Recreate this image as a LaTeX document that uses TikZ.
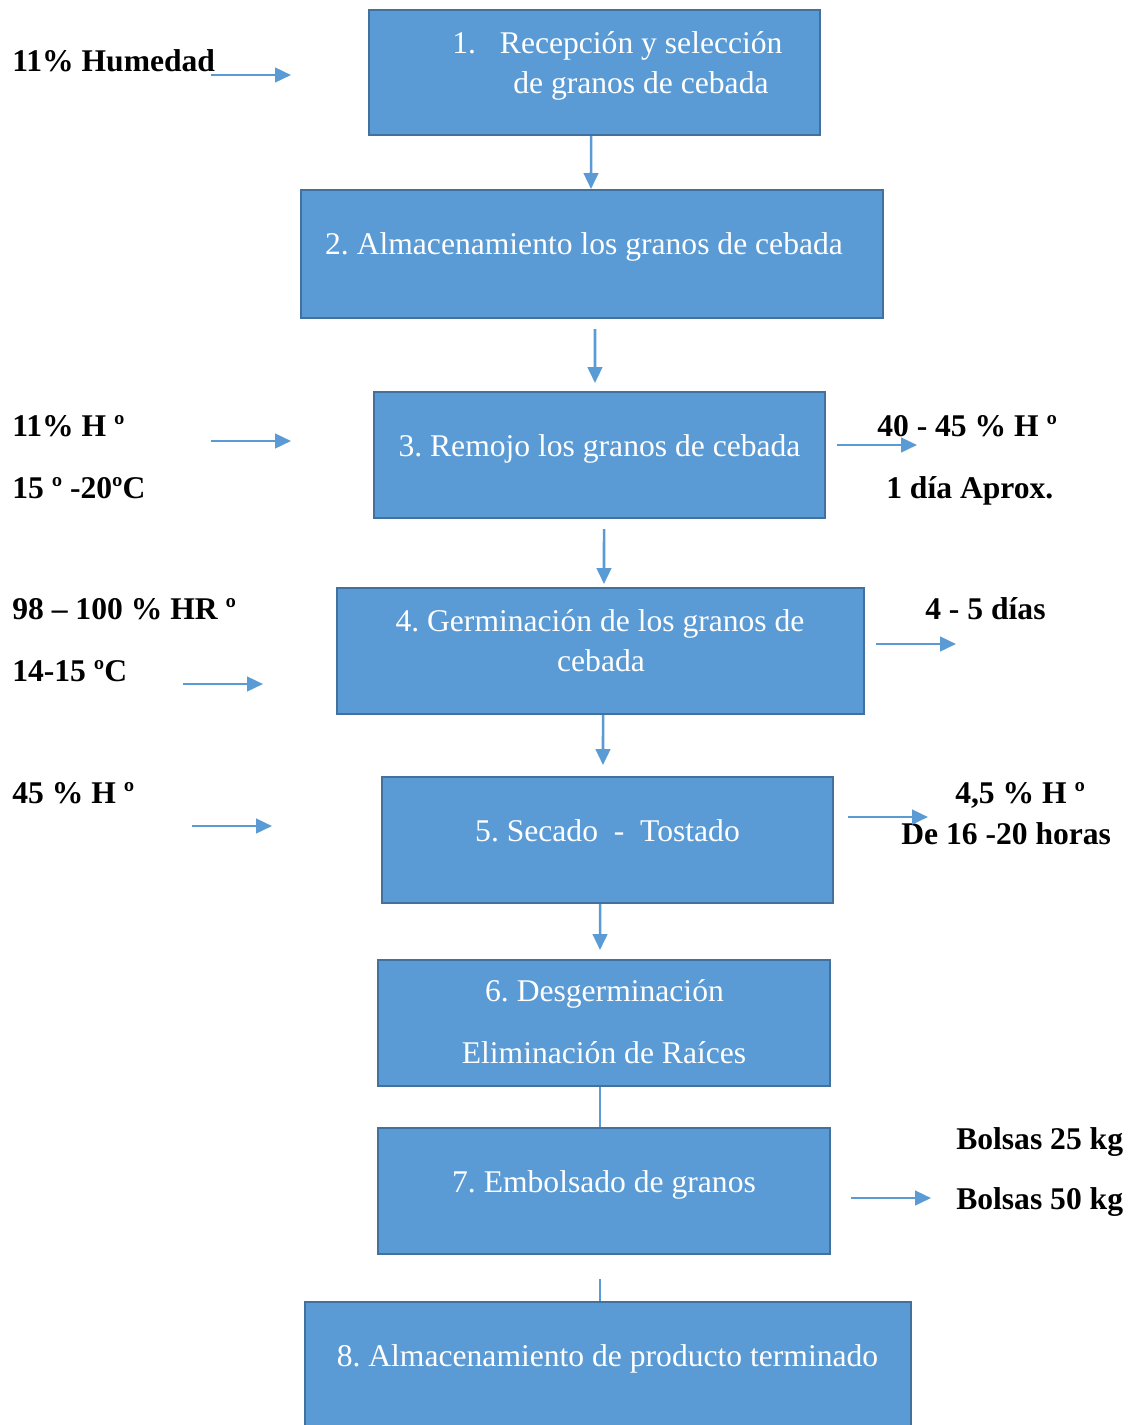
\documentclass[tikz,border=0pt]{standalone}
\usepackage{fontspec}
\setmainfont{Liberation Serif}
\usetikzlibrary{arrows.meta}
\definecolor{boxfill}{HTML}{5B9BD5}
\definecolor{boxline}{HTML}{41719C}
\tikzset{
  procbox/.style={draw=boxline, fill=boxfill, line width=1.5pt, inner sep=0pt},
  intext/.style={text=white, font=\fontsize{23.7}{28}\selectfont, inner sep=0pt, anchor=base},
  sidelabel/.style={text=black, font=\bfseries\fontsize{23.7}{28}\selectfont, inner sep=0pt, anchor=base west},
  flow/.style={draw=boxfill, line width=1.9pt, -{Triangle[length=12pt,width=11pt]}},
  plainflow/.style={draw=boxfill, line width=1.9pt},
}
\frenchspacing
\begin{document}
\frenchspacing
\begin{tikzpicture}[x=0.75pt,y=-0.75pt]
\useasboundingbox (0,0) rectangle (1133,1425);
\clip (0,0) rectangle (1133,1425);

% boxes
\node[procbox, minimum width=451*0.75pt, minimum height=125*0.75pt] (b1) at (594.5,72.5) {};
\node[procbox, minimum width=582*0.75pt, minimum height=128*0.75pt] (b2) at (592,254) {};
\node[procbox, minimum width=451*0.75pt, minimum height=126*0.75pt] (b3) at (599.5,455) {};
\node[procbox, minimum width=527*0.75pt, minimum height=126*0.75pt] (b4) at (600.5,651) {};
\node[procbox, minimum width=451*0.75pt, minimum height=126*0.75pt] (b5) at (607.5,840) {};
\node[procbox, minimum width=452*0.75pt, minimum height=126*0.75pt] (b6) at (604,1023) {};
\node[procbox, minimum width=452*0.75pt, minimum height=126*0.75pt] (b7) at (604,1191) {};
\node[procbox, minimum width=606*0.75pt, minimum height=140*0.75pt] (b8) at (608,1372) {};

% box texts
\node[intext, anchor=base west] (t1a) at (452,53) {1.\hspace{18pt}Recepción y selección};
\node[intext, anchor=base west] (t1b) at (513,93) {de granos de cebada};
\node[intext] (t2) at (584,254) {2. Almacenamiento los granos de cebada};
\node[intext] (t3) at (599.5,456) {3. Remojo los granos de cebada};
\node[intext] (t4a) at (600,631) {4. Germinación de los granos de};
\node[intext] (t4b) at (601,671) {cebada};
\node[intext] (t5) at (607.5,841) {5. Secado\ \ -\ \ Tostado};
\node[intext] (t6a) at (604.5,1001) {6. Desgerminación};
\node[intext] (t6b) at (604,1063) {Eliminación de Raíces};
\node[intext] (t7) at (604,1192) {7. Embolsado de granos};
\node[intext] (t8) at (607.5,1366) {8. Almacenamiento de producto terminado};

% vertical connectors
\draw[flow] ([xshift=-2.6pt]b1.south) -- ([xshift=-0.75pt]b2.north);
\draw[flow, shorten <=7.5pt, shorten >=6pt] ([xshift=2.25pt]b2.south) -- ([xshift=-3.4pt]b3.north);
\draw[flow, shorten <=7.5pt, shorten >=2.25pt] ([xshift=3.4pt]b3.south) -- ([xshift=2.6pt]b4.north);
\draw[flow, shorten >=8.25pt] ([xshift=1.9pt]b4.south) -- ([xshift=-3.4pt]b5.north);
\draw[flow, shorten >=6.75pt] ([xshift=-5.6pt]b5.south) -- ([xshift=-3pt]b6.north);
\draw[plainflow] ([xshift=-3pt]b6.south) -- ([xshift=-3pt]b7.north);
\draw[plainflow, shorten <=18pt] ([xshift=-3pt]b7.south) -- ([xshift=-6pt]b8.north);

% side labels
\node[sidelabel] (l1) at (12,71) {11\% Humedad};
\node[sidelabel] (l3a) at (12,436) {11\% H º};
\node[sidelabel] (l3b) at (12,498) {15 º -20ºC};
\node[sidelabel] (l4a) at (12,619) {98 – 100 \% HR º};
\node[sidelabel] (l4b) at (12,681) {14-15 ºC};
\node[sidelabel] (l5) at (12,803) {45 \% H º};
\node[sidelabel] (r3a) at (877,436) {40 - 45 \% H º};
\node[sidelabel] (r3b) at (886,498) {1 día Aprox.};
\node[sidelabel] (r4) at (925,619) {4 - 5 días};
\node[sidelabel] (r5a) at (955,803) {4,5 \% H º};
\node[sidelabel] (r5b) at (901,844) {De 16 -20 horas};
\node[sidelabel] (r7a) at (956,1149) {Bolsas 25 kg};
\node[sidelabel] (r7b) at (956,1209) {Bolsas 50 kg};

% side arrows
\coordinate (a1s) at (211,75);  \coordinate (a1e) at (291,75);
\coordinate (a3s) at (211,441); \coordinate (a3e) at (291,441);
\coordinate (a4s) at (183,684); \coordinate (a4e) at (263,684);
\coordinate (a5s) at (192,826); \coordinate (a5e) at (272,826);
\coordinate (c3s) at (837,445); \coordinate (c3e) at (917,445);
\coordinate (c4s) at (876,644); \coordinate (c4e) at (956,644);
\coordinate (c5s) at (848,817); \coordinate (c5e) at (928,817);
\coordinate (c7s) at (851,1198); \coordinate (c7e) at (931,1198);
\draw[flow] (a1s) -- (a1e);
\draw[flow] (a3s) -- (a3e);
\draw[flow] (a4s) -- (a4e);
\draw[flow] (a5s) -- (a5e);
\draw[flow] (c3s) -- (c3e);
\draw[flow] (c4s) -- (c4e);
\draw[flow] (c5s) -- (c5e);
\draw[flow] (c7s) -- (c7e);
\end{tikzpicture}
\end{document}
